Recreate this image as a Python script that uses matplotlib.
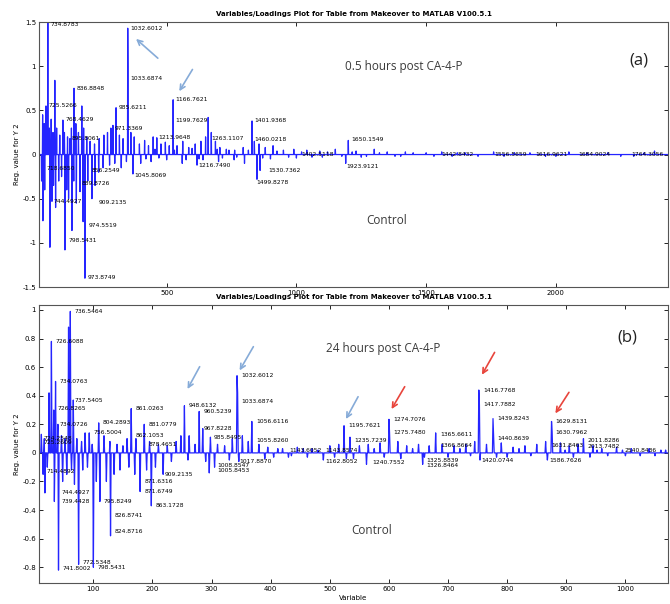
import numpy as np
import matplotlib
matplotlib.use("Agg")
import matplotlib.pyplot as plt

# ---------------- data, panel (a): 0.5 h post CA-4-P ----------------
a_nvar = 2440
a_var = [22, 28, 35, 42, 48, 55, 62, 69, 76, 88, 100, 106, 118, 127, 133, 143, 150, 160,
         173, 180, 192, 205, 222, 240, 258, 272, 285, 293, 305, 318, 332, 350, 351, 362,
         375, 395, 415, 430, 448, 462, 478, 495, 510, 525, 540, 562, 585, 610, 632, 650,
         660, 672, 688, 705, 730, 762, 795, 829, 838, 856, 880, 910, 950, 990, 1040, 1090,
         1150, 1200, 1230, 1300, 1350, 1420, 1500, 1560, 1650, 1760, 1900, 2050, 2200, 2380,
         18, 23, 30, 50, 58, 64, 72, 84, 95, 108, 115, 122, 135, 142, 152, 166, 178, 185,
         196, 212, 224, 238, 255, 280, 300, 325, 345, 370, 400, 440, 500, 560, 617, 640,
         700, 760, 800, 848, 860, 900, 1000, 1100, 1190, 1250, 1402, 1600, 1800, 2000, 2300,
         # low-level ripple along the baseline
         420, 455, 470, 530, 575, 598, 625, 695, 715, 740, 770, 815, 870, 925, 970, 1020,
         1060, 1120, 1175, 1215, 1270, 1320, 1380, 1450, 1530, 1620, 1700, 1840, 1960,
         2120, 2250, 2340]
a_load = [0.45, 0.35, 0.55, 1.55, 0.30, 0.40, 0.25, 0.84, 0.30, 0.22, 0.39, 0.25, 0.20, 0.18,
          0.30, 0.75, 0.35, 0.25, 0.55, 0.30, 0.20, 0.15, 0.12, 0.18, 0.22, 0.25, 0.30, 0.33,
          0.53, 0.22, 0.18, 1.43, 1.00, 0.25, 0.20, 0.12, 0.16, 0.10, 0.20, 0.19, 0.12, 0.14,
          0.10, 0.62, 0.10, 0.15, 0.08, 0.12, 0.15, 0.20, 0.42, 0.25, 0.15, 0.08, 0.06, 0.05,
          0.08, 0.38, 0.15, 0.12, 0.08, 0.10, 0.05, 0.06, 0.05, 0.04, 0.06, 0.16, 0.04, 0.06,
          0.03, 0.03, 0.02, 0.03, 0.02, 0.03, 0.02, 0.03, 0.02, 0.04,
          -0.30, -0.75, -0.40, -1.05, -0.53, -0.35, -0.60, -0.30, -0.25, -1.08, -0.40, -0.50,
          -0.86, -0.30, -0.55, -0.42, -0.76, -1.40, -0.30, -0.50, -0.35, -0.20, -0.15, -0.12,
          -0.10, -0.15, -0.08, -0.22, -0.10, -0.08, -0.06, -0.10, -0.12, -0.06, -0.08, -0.06,
          -0.10, -0.28, -0.18, -0.05, -0.04, -0.03, -0.10, -0.03, -0.02, -0.02, -0.02, -0.02,
          -0.02,
          -0.05, 0.06, -0.04, 0.05, -0.06, 0.07, -0.05, 0.06, -0.04, 0.05, -0.03, 0.05, -0.04,
          0.04, -0.03, 0.03, -0.03, 0.03, -0.02, 0.03, -0.02, 0.02, -0.02, 0.02, -0.02, 0.02,
          -0.02, 0.02, -0.02, 0.02, -0.02, 0.02]

a_labels = ["734.8783", "725.5266", "836.8848", "768.4629", "985.6211", "1032.6012",
            "1033.6874", "1166.7621", "1199.7629", "971.3369", "1213.9648", "1263.1107",
            "895.8061", "1401.9368", "1460.0218", "1650.1549",
            "718.6850", "856.2549", "889.8726", "744.4927", "909.2135", "974.5519",
            "798.5431", "973.8749", "1045.8069", "1216.7490", "1530.7362", "1499.8278",
            "1923.9121", "1402.5118", "1442.8432", "1556.5659", "1616.9621", "1684.9024",
            "1764.3056"]
a_label_x = [46, 38, 147, 104, 309, 354, 354, 529, 529, 293, 462, 667, 127, 833, 833, 1204,
             31, 204, 166, 58, 231, 192, 115, 190, 370, 617, 887, 840, 1187, 1014, 1553,
             1758, 1913, 2082, 2286]
a_label_y = [1.47, 0.55, 0.75, 0.40, 0.53, 1.43, 0.86, 0.62, 0.38, 0.30, 0.19, 0.18, 0.18,
             0.38, 0.17, 0.17, -0.16, -0.18, -0.33, -0.53, -0.54, -0.80, -0.97, -1.39,
             -0.24, -0.12, -0.18, -0.32, -0.14, 0.0, 0.0, 0.0, 0.0, 0.0, 0.0]

# ---------------- data, panel (b): 24 h post CA-4-P ----------------
b_nvar = 1075
b_var = [12, 17, 25, 29, 33, 36, 40, 46, 52, 58, 61, 66, 72, 80, 86, 93, 98, 109, 118, 128,
         140, 150, 157, 164, 172, 186, 195, 210, 225, 240, 248, 254, 262, 272, 279, 285, 298,
         310, 322, 335, 343, 344, 352, 362, 368, 380, 395, 420, 445, 470, 500, 515, 524, 534,
         550, 565, 585, 600, 601, 615, 630, 650, 668, 679, 690, 710, 730, 745, 752, 753, 765,
         776, 777, 790, 810, 830, 850, 865, 875, 876, 890, 905, 920, 929, 945, 960, 985, 1010,
         1040, 1060,
         15, 18, 22, 34, 41, 48, 55, 63, 68, 75, 82, 90, 100, 105, 111, 122, 129, 135, 145,
         160, 170, 179, 190, 198, 205, 218, 232, 260, 290, 296, 305, 330, 346, 390, 430, 489,
         540, 562, 620, 657, 700, 754, 800, 868, 940, 1000, 1050,
         # low-level ripple along the baseline
         405, 412, 435, 455, 462, 480, 508, 528, 575, 592, 640, 660, 720, 738, 782, 820, 840,
         898, 912, 952, 970, 995, 1025, 1068]
b_load = [0.13, 0.10, 0.42, 0.78, 0.30, 0.50, 0.20, 0.12, 0.10, 0.88, 0.99, 0.37, 0.10, 0.08,
          0.14, 0.14, 0.06, 0.21, 0.12, 0.08, 0.06, 0.05, 0.10, 0.31, 0.10, 0.20, 0.08, 0.06,
          0.05, 0.08, 0.12, 0.33, 0.12, 0.06, 0.29, 0.17, 0.11, 0.06, 0.05, 0.10, 0.54, 0.42,
          0.12, 0.08, 0.22, 0.06, 0.04, 0.03, 0.04, 0.03, 0.05, 0.06, 0.19, 0.11, 0.05, 0.06,
          0.07, 0.235, 0.14, 0.08, 0.05, 0.06, 0.05, 0.14, 0.06, 0.05, 0.06, 0.08, 0.44, 0.34,
          0.06, 0.24, 0.12, 0.07, 0.04, 0.05, 0.06, 0.08, 0.22, 0.15, 0.07, 0.05, 0.06, 0.10,
          0.05, 0.03, 0.04, 0.03, 0.03, 0.02,
          -0.15, -0.28, -0.10, -0.34, -0.82, -0.20, -0.15, -0.12, -0.22, -0.78, -0.12, -0.10,
          -0.80, -0.20, -0.34, -0.20, -0.58, -0.15, -0.12, -0.10, -0.15, -0.27, -0.12, -0.37,
          -0.10, -0.15, -0.06, -0.05, -0.06, -0.14, -0.10, -0.05, -0.06, -0.04, -0.03, -0.05,
          -0.04, -0.08, -0.04, -0.08, -0.03, -0.05, -0.03, -0.05, -0.03, -0.02, -0.02,
          -0.03, 0.03, -0.02, 0.03, -0.03, 0.02, -0.03, -0.04, 0.03, -0.03, 0.03, -0.03, 0.03,
          -0.02, -0.03, 0.03, -0.02, 0.02, -0.03, 0.02, -0.02, 0.02, -0.02, 0.02]

b_labels = ["736.5464", "726.6088", "734.0763", "737.5405", "726.8265", "734.0726",
            "756.5004", "804.2893", "861.0263", "881.0779", "862.1053", "878.4651",
            "948.6132", "960.5239", "967.8228", "985.8495", "1032.6012", "1033.6874",
            "1056.6116", "1055.8260", "1195.7621", "1235.7239", "1274.7076", "1275.7480",
            "1365.6611", "1366.8664", "1416.7768", "1417.7882", "1439.8243", "1440.8639",
            "1629.8131", "1630.7962", "1631.8463", "2011.8286", "2013.7482", "2540.8436",
            "1143.6052", "1143.8574", "724.2548", "725.2609",
            "741.8002", "772.5348", "798.5431", "824.8716", "826.8741", "795.8249",
            "744.4927", "739.4428", "863.1728", "871.6749", "871.6316", "909.2135",
            "1005.8453", "1008.8547", "1017.8870", "1162.8052", "1240.7552", "1326.8464",
            "1325.8839", "1420.0744", "1586.7626", "714.4892"]
b_label_x = [65, 33, 40, 65, 37, 40, 97, 112, 168, 190, 168, 190, 258, 283, 283, 300, 347,
             347, 372, 372, 528, 538, 604, 604, 683, 683, 756, 756, 780, 780, 879, 879, 872,
             933, 933, 996, 428, 490, 12, 12,
             45, 79, 104, 133, 133, 115, 44, 44, 202, 183, 183, 218, 307, 307, 343, 489, 568,
             661, 661, 754, 868, 18]
b_label_y = [0.99, 0.78, 0.50, 0.37, 0.31, 0.20, 0.14, 0.21, 0.31, 0.20, 0.12, 0.06, 0.33,
             0.29, 0.17, 0.11, 0.54, 0.36, 0.22, 0.09, 0.19, 0.09, 0.235, 0.14, 0.13, 0.05,
             0.44, 0.34, 0.24, 0.10, 0.22, 0.14, 0.05, 0.09, 0.045, 0.02, 0.02, 0.02, 0.10,
             0.075,
             -0.81, -0.77, -0.80, -0.55, -0.44, -0.34, -0.28, -0.34, -0.37, -0.27, -0.20,
             -0.15, -0.12, -0.09, -0.06, -0.06, -0.07, -0.09, -0.05, -0.05, -0.05, -0.13]

# arrows: (tail x, tail y, head x, head y)
a_arrows_blue = [(474, 1.07, 374, 1.33), (605, 0.99, 543, 0.69)]
b_arrows_blue = [(282, 0.62, 257, 0.43), (373, 0.76, 345, 0.56), (550, 0.41, 525, 0.22)]
b_arrows_red = [(629, 0.48, 602, 0.29), (781, 0.72, 755, 0.53), (907, 0.44, 879, 0.26)]

title = "Variables/Loadings Plot for Table from Makeover to MATLAB V100.5.1"
line_color = "#2525ff"
blue_arrow = "#86abd8"
red_arrow = "#e8453c"
note_color = "#3a3a3a"
note_font = "Open Sans"


def spectrum(nvar, var, load):
    y = np.zeros(nvar)
    y[np.array(var)] = load
    return np.arange(nvar), y


def style_axes(ax):
    ax.tick_params(direction="in", length=3, width=0.6, labelsize=5,
                   top=True, right=True, pad=2)
    for s in ax.spines.values():
        s.set_color("#555555")
        s.set_linewidth(0.8)


fig = plt.figure(figsize=(6.7, 6.04), dpi=100)

# ---- panel (a)
ax1 = fig.add_axes([0.0582, 0.5248, 0.9388, 0.4387])
x, y = spectrum(a_nvar, a_var, a_load)
ax1.plot(x, y, color=line_color, lw=0.9)
ax1.set_xlim(8, 2432)
ax1.set_ylim(-1.5, 1.5)
ax1.set_xticks([500, 1000, 1500, 2000])
ax1.set_yticks([-1.5, -1, -0.5, 0, 0.5, 1, 1.5])
ax1.set_yticklabels(["-1.5", "-1", "-0.5", "0", "0.5", "1", "1.5"])
style_axes(ax1)
ax1.set_title(title, fontsize=5, fontweight="bold", pad=4)
ax1.set_ylabel("Reg. value for Y 2", fontsize=5, labelpad=2)
for t, tx, ty in zip(a_labels, a_label_x, a_label_y):
    ax1.text(tx + 6, ty, t, fontsize=4.3, va="center", ha="left", clip_on=True)
for x0, y0, x1, y1 in a_arrows_blue:
    ax1.annotate("", xy=(x1, y1), xytext=(x0, y0),
                 arrowprops=dict(arrowstyle="->", color=blue_arrow, lw=1.2,
                                 mutation_scale=9))
ax1.text(1413, 1.0, "0.5 hours post CA-4-P", fontsize=8.5, family=note_font,
         color=note_color, ha="center", va="center")
ax1.text(2319, 1.06, "(a)", fontsize=12, family=note_font, color="#222222",
         ha="center", va="center")
ax1.text(1347, -0.75, "Control", fontsize=8.5, family=note_font, color=note_color,
         ha="center", va="center")

# ---- panel (b)
ax2 = fig.add_axes([0.0582, 0.0348, 0.9388, 0.4603])
x, y = spectrum(b_nvar, b_var, b_load)
ax2.plot(x, y, color=line_color, lw=0.9)
ax2.set_xlim(8, 1072)
ax2.set_ylim(-0.91, 1.035)
ax2.set_xticks(np.arange(100, 1001, 100))
ax2.set_yticks([-0.8, -0.6, -0.4, -0.2, 0, 0.2, 0.4, 0.6, 0.8, 1])
ax2.set_yticklabels(["-0.8", "-0.6", "-0.4", "-0.2", "0", "0.2", "0.4", "0.6", "0.8", "1"])
style_axes(ax2)
ax2.set_title(title, fontsize=5, fontweight="bold", pad=4)
ax2.set_ylabel("Reg. value for Y 2", fontsize=5, labelpad=2)
ax2.set_xlabel("Variable", fontsize=5, labelpad=2)
for t, tx, ty in zip(b_labels, b_label_x, b_label_y):
    ax2.text(tx + 3, ty, t, fontsize=4.3, va="center", ha="left", clip_on=True)
for arrows, col in ((b_arrows_blue, blue_arrow), (b_arrows_red, red_arrow)):
    for x0, y0, x1, y1 in arrows:
        ax2.annotate("", xy=(x1, y1), xytext=(x0, y0),
                     arrowprops=dict(arrowstyle="->", color=col, lw=1.2,
                                     mutation_scale=9))
ax2.text(591, 0.73, "24 hours post CA-4-P", fontsize=8.5, family=note_font,
         color=note_color, ha="center", va="center")
ax2.text(1004, 0.81, "(b)", fontsize=12, family=note_font, color="#222222",
         ha="center", va="center")
ax2.text(571, -0.54, "Control", fontsize=8.5, family=note_font, color=note_color,
         ha="center", va="center")

fig.savefig("out.png", dpi=100)
